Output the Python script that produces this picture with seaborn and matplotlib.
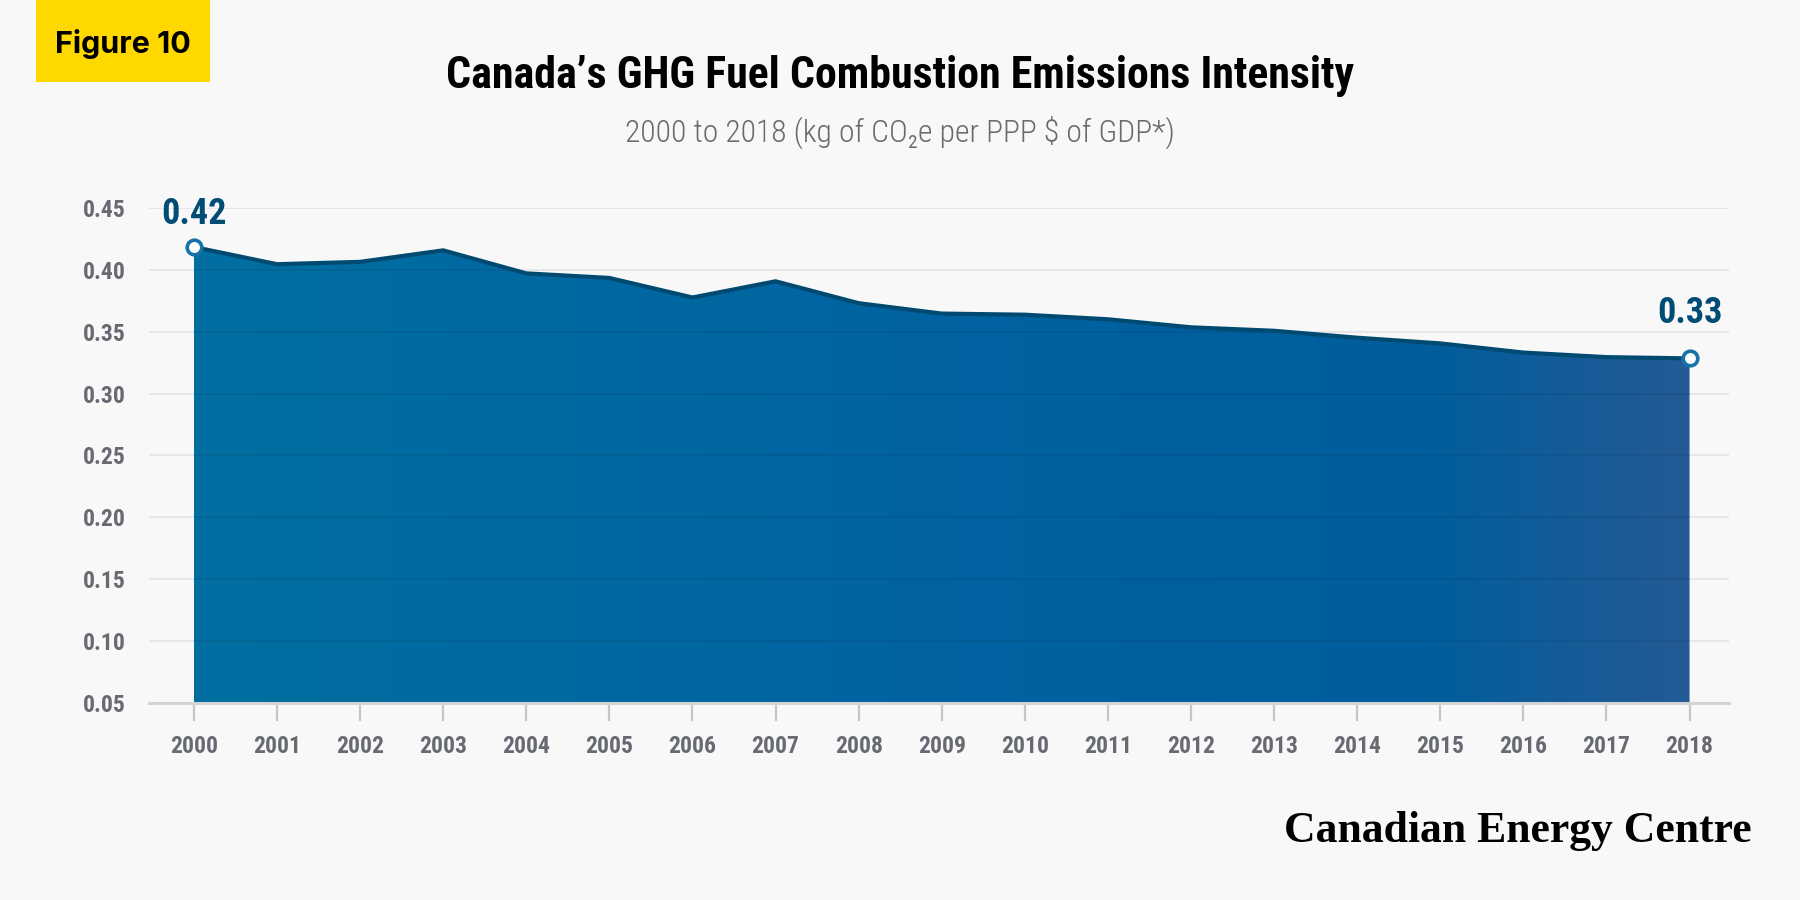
import numpy as np
import matplotlib
matplotlib.use("Agg")
import matplotlib.pyplot as plt
from matplotlib.colors import LinearSegmentedColormap
from matplotlib.patches import Rectangle
from matplotlib import font_manager
import seaborn as sns

# Data
years = list(range(2000, 2019))
intensity = [0.4184, 0.4045, 0.4064, 0.4157, 0.3971, 0.3934, 0.3776, 0.3907,
             0.3730, 0.3646, 0.3637, 0.3600, 0.3535, 0.3507, 0.3451, 0.3405,
             0.3331, 0.3294, 0.3284]
end_labels = ["0.42", "0.33"]
y_ticks = [0.05, 0.10, 0.15, 0.20, 0.25, 0.30, 0.35, 0.40, 0.45]

title = "Canada\u2019s GHG Fuel Combustion Emissions Intensity"
subtitle = "2000 to 2018 (kg of CO\u2082e per PPP $ of GDP*)"

sns.set_theme(style="white")

# pick the narrowest sans family that is installed
installed = {f.name for f in font_manager.fontManager.ttflist}
narrow = "DejaVu Sans"
for cand in ["Roboto Condensed", "Liberation Sans Narrow", "Open Sans Condensed",
             "DejaVu Sans Condensed", "Roboto"]:
    if cand in installed:
        narrow = cand
        break
plt.rcParams["font.family"] = [narrow, "DejaVu Sans"]

bg = "#f8f8f8"
fig = plt.figure(figsize=(18, 9), dpi=100, facecolor=bg)
ax = fig.add_axes([0.0828, 0.219, 0.878, 0.550])
ax.set_facecolor(bg)

# gradient area fill, clipped to the area under the series
poly = ax.fill_between(years, intensity, 0.05, facecolor="none", edgecolor="none")
cmap = LinearSegmentedColormap.from_list(
    "cec", [(0.0, "#006fa0"), (0.55, "#0062a0"), (0.82, "#005e9c"), (1.0, "#245a96")])
grad = ax.imshow(np.linspace(0, 1, 256).reshape(1, -1), cmap=cmap, aspect="auto",
                 extent=[years[0], years[-1], 0.05, 0.45], zorder=1)
grad.set_clip_path(poly.get_paths()[0], transform=ax.transData)

sns.lineplot(x=years, y=intensity, ax=ax, color="#004a72", linewidth=3.0, zorder=4)

# hollow end markers
ends_x = [years[0], years[-1]]
ends_y = [intensity[0], intensity[-1]]
sns.scatterplot(x=ends_x, y=ends_y, ax=ax, s=110, facecolor="white",
                edgecolor="#1673a8", linewidth=2.6, zorder=6)
offsets = [24, 33]
for xv, yv, lab, off in zip(ends_x, ends_y, end_labels, offsets):
    ax.annotate(lab, (xv, yv), xytext=(0, off), textcoords="offset points",
                ha="center", va="center", fontsize=26, fontweight="bold",
                color="#004c75", annotation_clip=False, zorder=7)

ax.set_xlim(1999.46, 2018.48)
ax.set_ylim(0.05, 0.45)
ax.set_xticks(years)
ax.set_xticklabels([str(y) for y in years])
ax.set_yticks(y_ticks)
ax.set_yticklabels([f"{v:.2f}" for v in y_ticks])

ax.set_axisbelow(False)
ax.grid(axis="y", color="black", alpha=0.085, linewidth=1.2)
ax.grid(axis="x", visible=False)
for side in ["top", "right", "left"]:
    ax.spines[side].set_visible(False)
ax.spines["bottom"].set_color("#d4d4d4")
ax.spines["bottom"].set_linewidth(2.2)
ax.spines["bottom"].set_zorder(5)

ax.tick_params(axis="x", length=13, width=1.6, color="#c6c6c6", pad=10,
               labelsize=17, labelcolor="#686a72", bottom=True)
ax.tick_params(axis="y", length=0, pad=17, labelsize=17, labelcolor="#686a72")
for lab in ax.get_xticklabels() + ax.get_yticklabels():
    lab.set_fontweight("bold")
ax.set_xlabel("")
ax.set_ylabel("")

# header
fig.patches.append(Rectangle((0.020, 0.909), 0.0967, 0.091, transform=fig.transFigure,
                             facecolor="#ffd800", edgecolor="none"))
fig.text(0.0683, 0.951, "Figure 10", ha="center", va="center", fontsize=22,
         fontweight="bold", family=["Inter", "DejaVu Sans"], color="black")
title_txt = fig.text(0.5, 0.902, title, ha="center", va="baseline", fontsize=36,
                     fontweight="bold", color="black")
sub_txt = fig.text(0.5, 0.843, subtitle, ha="center", va="baseline", fontsize=23,
                   fontweight="light", color="#6a6a6a")

# keep title and subtitle at the reference widths
renderer = fig.canvas.get_renderer()
for txt, target in [(title_txt, 907), (sub_txt, 552)]:
    w = txt.get_window_extent(renderer).width
    if w > target:
        txt.set_fontsize(txt.get_fontsize() * target / w)

# footer logo
fig.text(0.973, 0.0644, "Canadian Energy Centre", ha="right", va="baseline",
         fontsize=31.5, fontweight="bold",
         family=["Liberation Serif", "DejaVu Serif"], color="black")

fig.savefig("out.png", dpi=100, facecolor=bg)
